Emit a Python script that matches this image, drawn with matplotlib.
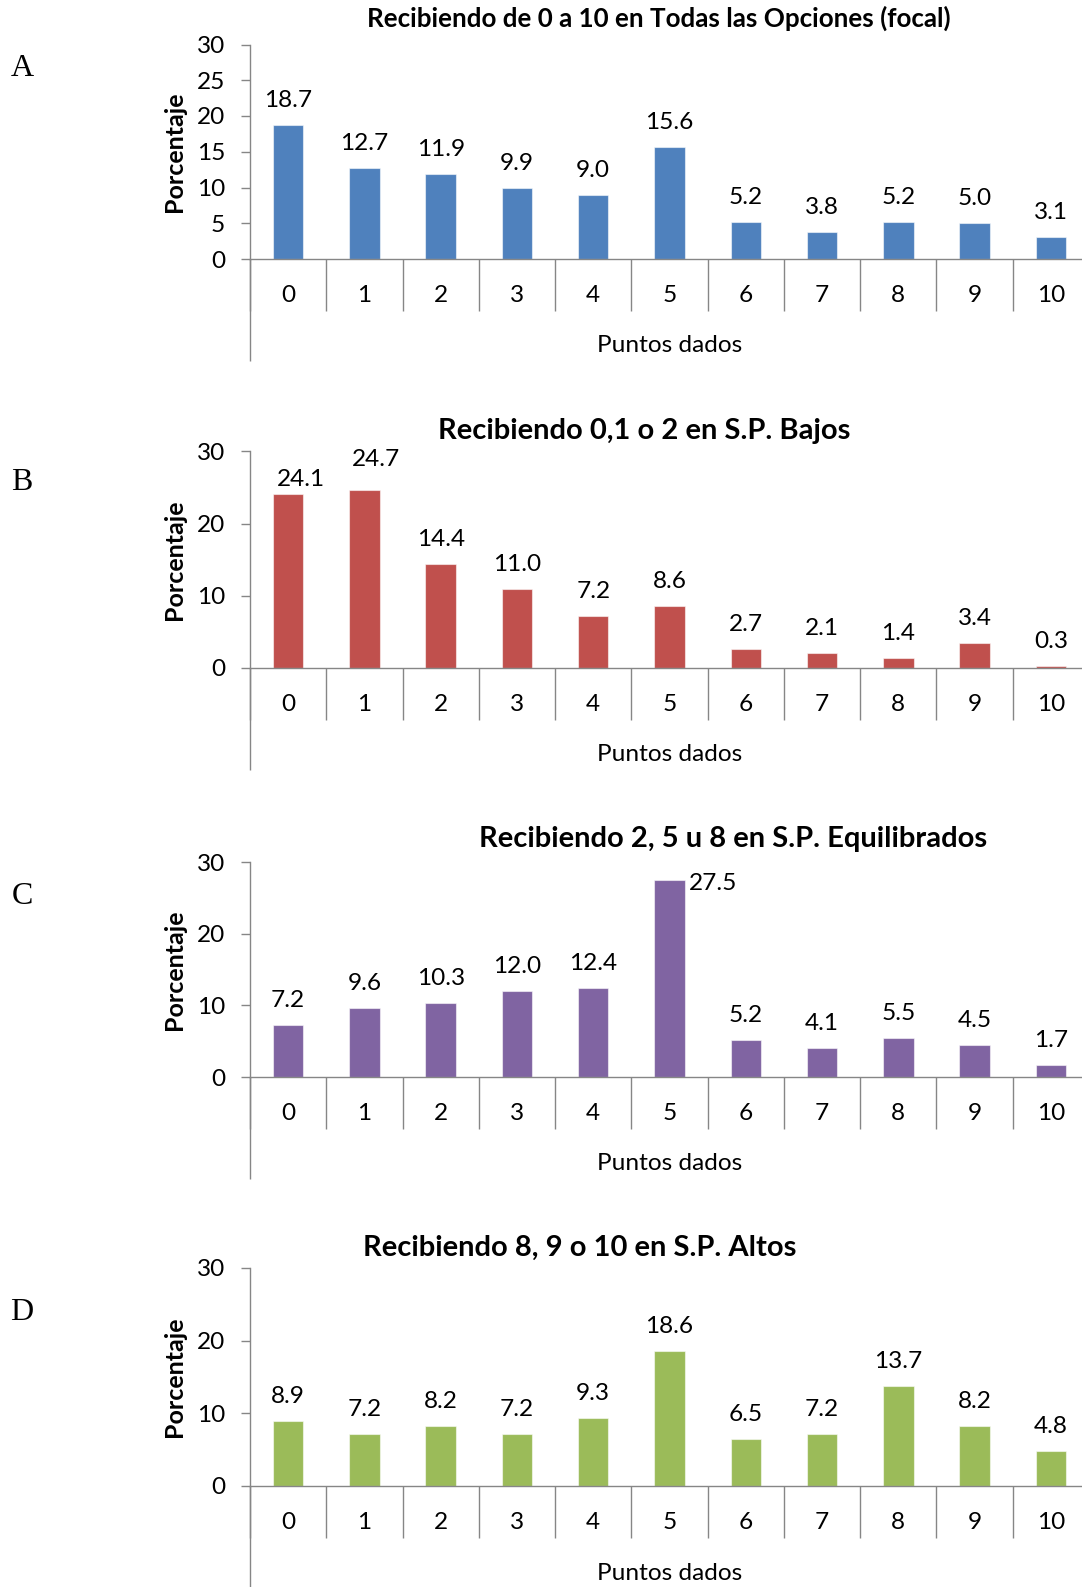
import numpy as np
import matplotlib
matplotlib.use("Agg")
import matplotlib.pyplot as plt
import matplotlib.transforms as mtransforms

# ---- data -------------------------------------------------------------
puntos = ["0", "1", "2", "3", "4", "5", "6", "7", "8", "9", "10"]

focal_todas = [18.7, 12.7, 11.9, 9.9, 9.0, 15.6, 5.2, 3.8, 5.2, 5.0, 3.1]
sp_bajos = [24.1, 24.7, 14.4, 11.0, 7.2, 8.6, 2.7, 2.1, 1.4, 3.4, 0.3]
sp_equilibrados = [7.2, 9.6, 10.3, 12.0, 12.4, 27.5, 5.2, 4.1, 5.5, 4.5, 1.7]
sp_altos = [8.9, 7.2, 8.2, 7.2, 9.3, 18.6, 6.5, 7.2, 13.7, 8.2, 4.8]

titulos = [
    "Recibiendo de 0 a 10 en Todas las Opciones (focal)",
    "Recibiendo 0,1 o 2 en S.P. Bajos",
    "Recibiendo 2, 5 u 8 en S.P. Equilibrados",
    "Recibiendo 8, 9 o 10 en S.P. Altos",
]
letras = ["A", "B", "C", "D"]
series = [focal_todas, sp_bajos, sp_equilibrados, sp_altos]
paso_y = [5, 10, 10, 10]
y_max = 30

# ---- styling ----------------------------------------------------------
colores = ["#4F81BD", "#C0504D", "#8064A2", "#9BBB59"]
GRIS = "#868686"
FUENTE = "Lato"
FS = 17.6            # tick labels, data labels, axis title
W, H = 1082, 1587
DPI = 100
PX = 72.0 / DPI  # points per pixel

plt.rcParams["font.family"] = [FUENTE, "DejaVu Sans"]

# panel geometry in pixels: y of 30-line, y of 0-line, title centre x/y, title size
paneles = [
    dict(y30=44.5, y0=259, tx=659, ty=27, tsize=18.7, ly=69),
    dict(y30=451.4, y0=668, tx=644, ty=439, tsize=21.0, ly=482),
    dict(y30=862.3, y0=1077, tx=733, ty=847, tsize=21.0, ly=896),
    dict(y30=1268, y0=1486, tx=580, ty=1256, tsize=21.0, ly=1312),
]
X_LEFT, X_WIDTH = 250, 839
CAT_TICK = 51.5      # length of category separator ticks (px)
LBL_OFF = 36.5       # tick label centre below axis (px)
XLAB_OFF = 87        # axis title centre below axis (px)
AX_EXT = 102         # value axis extension below zero (px)
YLAB_X = 175
DY = 24.5            # default data label offset above bar top (px)

# per-label offsets (px) for data labels that sit off the default spot
ajustes = {
    (1, 0): dict(dx=13, dy=14.5, ha="center"),
    (1, 1): dict(dx=12, dy=30, ha="center"),
    (2, 5): dict(dx=19, dy=-3, ha="left"),
}

fig = plt.figure(figsize=(W / DPI, H / DPI), dpi=DPI)

for k, (vals, p) in enumerate(zip(series, paneles)):
    h_px = p["y0"] - p["y30"]
    ax = fig.add_axes([X_LEFT / W, 1 - p["y0"] / H, X_WIDTH / W, h_px / H])
    x = np.arange(len(puntos))
    ax.bar(x, vals, width=0.4, color=colores[k],
           edgecolor=(1, 1, 1, 0.55), linewidth=0.8, zorder=2)

    ax.set_xlim(-0.5, len(puntos) - 0.5)
    ax.set_ylim(0, y_max)
    ax.set_yticks(np.arange(0, y_max + 0.1, paso_y[k]))

    # category labels, separators as minor ticks
    ax.set_xticks(x)
    ax.set_xticklabels(puntos)
    ax.set_xticks(np.arange(-0.5, len(puntos), 1.0), minor=True)
    ax.tick_params(axis="x", which="major", length=0, pad=LBL_OFF * PX,
                   labelsize=FS)
    ax.tick_params(axis="x", which="minor", length=CAT_TICK * PX,
                   width=1.0, color=GRIS, direction="out")
    for t in ax.get_xticklabels():
        t.set_va("center")
    ax.tick_params(axis="y", which="major", length=9 * PX, width=1.0,
                   color=GRIS, direction="out", pad=16 * PX, labelsize=FS)

    for s in ("top", "right"):
        ax.spines[s].set_visible(False)
    for s in ("left", "bottom"):
        ax.spines[s].set_color(GRIS)
        ax.spines[s].set_linewidth(1.0)

    # value axis continues below the category band
    trans = mtransforms.blended_transform_factory(ax.transAxes, ax.transAxes)
    ax.plot([0, 0], [0, -AX_EXT / h_px], transform=trans, color=GRIS,
            lw=1.0, clip_on=False, solid_capstyle="butt")

    ax.set_xlabel("Puntos dados", fontsize=FS)
    ax.xaxis.set_label_coords(0.5, -XLAB_OFF / h_px)
    ax.xaxis.label.set_va("center")
    ax.set_ylabel("Porcentaje", fontsize=18, fontweight="bold")
    ax.yaxis.set_label_coords((YLAB_X - X_LEFT) / X_WIDTH, 0.5)
    ax.yaxis.label.set_va("center")

    ax.set_title(titulos[k], fontsize=p["tsize"], fontweight="bold",
                 x=(p["tx"] - X_LEFT) / X_WIDTH,
                 y=(p["y0"] - p["ty"]) / h_px, va="center", ha="center")

    for i, v in enumerate(vals):
        a = ajustes.get((k, i), dict(dx=0, dy=DY, ha="center"))
        ax.annotate(f"{v:.1f}", xy=(i, v), xytext=(a["dx"], a["dy"]),
                    textcoords="offset pixels", ha=a["ha"], va="center",
                    fontsize=FS, annotation_clip=False)

    fig.text(22 / W, 1 - p["ly"] / H, letras[k], family="Liberation Serif",
             fontsize=23, ha="center", va="center")

fig.savefig("out.png", dpi=DPI)
